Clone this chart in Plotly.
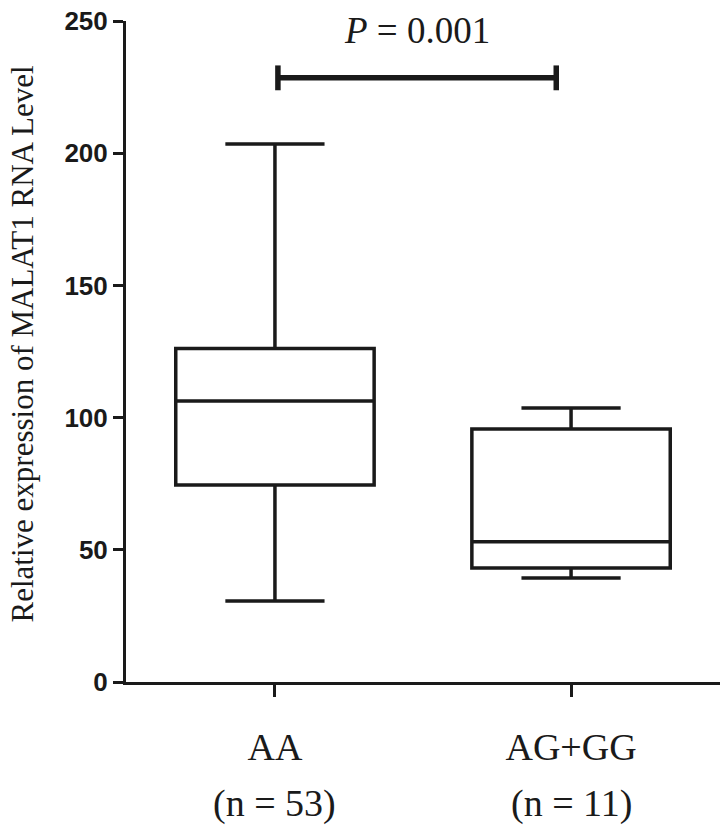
import plotly.graph_objects as go

# ---- data ----
categories = ["AA", "AG+GG"]
n_labels = ["(n = 53)", "(n = 11)"]
lower_whisker = [30.6, 39.3]
q1_vals = [74.5, 43.1]
median_vals = [106.3, 53.0]
q3_vals = [126.1, 95.7]
upper_whisker = [203.5, 103.6]
y_ticks = [0, 50, 100, 150, 200, 250]
p_text = "<i>P</i> = 0.001"
sig_x = [0.01, 0.95]   # category positions of bracket ends
sig_y = 228.5

ink = "#1a1a1a"
serif = "Liberation Serif, Times New Roman, serif"
sans = "Liberation Sans, Arial, sans-serif"

x_pos = list(range(len(categories)))

fig = go.Figure()
for i, c in enumerate(categories):
    fig.add_trace(go.Box(
        x=[x_pos[i]],
        q1=[q1_vals[i]], median=[median_vals[i]], q3=[q3_vals[i]],
        lowerfence=[lower_whisker[i]], upperfence=[upper_whisker[i]],
        width=0.67, whiskerwidth=0.5,
        fillcolor="rgba(0,0,0,0)",
        line=dict(color=ink, width=3.5),
        boxpoints=False, hoverinfo="skip", showlegend=False,
    ))

# significance bracket
fig.add_trace(go.Scatter(
    x=sig_x, y=[sig_y, sig_y], mode="lines",
    line=dict(color=ink, width=5.5), showlegend=False, hoverinfo="skip",
))
for xv in sig_x:
    fig.add_trace(go.Scatter(
        x=[xv, xv], y=[sig_y - 4.7, sig_y + 4.7], mode="lines",
        line=dict(color=ink, width=5.5), showlegend=False, hoverinfo="skip",
    ))

annotations = [dict(
    x=sum(sig_x) / 2, y=sig_y, xref="x", yref="y",
    text=p_text, showarrow=False, yanchor="middle", yshift=47,
    font=dict(family=serif, size=37, color=ink),
)]
for i, t in enumerate(n_labels):
    annotations.append(dict(
        x=x_pos[i], y=0, xref="x", yref="paper", text=t, showarrow=False,
        yanchor="middle", yshift=-121,
        font=dict(family=serif, size=38, color=ink),
    ))
# y-axis title as rotated annotation
annotations.append(dict(
    x=0, y=0.5, xref="paper", yref="paper", xanchor="center", yanchor="middle",
    xshift=-104, yshift=7, textangle=-90, showarrow=False,
    text="Relative expression of MALAT1 RNA Level",
    font=dict(family=serif, size=31, color=ink),
))

fig.update_layout(
    width=722, height=827,
    margin=dict(l=126, r=2, t=21, b=145),
    paper_bgcolor="white", plot_bgcolor="white",
    showlegend=False,
    hovermode=False,
    annotations=annotations,
    xaxis=dict(
        range=[-0.503, 1.503], automargin=False,
        tickmode="array", tickvals=x_pos, ticktext=categories,
        ticks="outside", ticklen=12, tickwidth=3, tickcolor=ink,
        showline=True, linecolor=ink, linewidth=3,
        showgrid=False, zeroline=False, ticklabelstandoff=17,
        ticklabeloverflow="allow",
        tickfont=dict(family=serif, size=38, color=ink),
    ),
    yaxis=dict(
        range=[0, 250], automargin=False,
        tickmode="array", tickvals=y_ticks,
        ticks="outside", ticklen=10, tickwidth=3, tickcolor=ink,
        showline=True, linecolor=ink, linewidth=3,
        showgrid=False, zeroline=False, ticklabeloverflow="allow",
        tickfont=dict(family=sans, size=26, color=ink, weight="bold"),
    ),
)

fig.write_html(
    "out.html",
    config={"displayModeBar": False, "staticPlot": True},
    post_script="document.body.style.margin='0';document.body.style.overflow='hidden';",
)
